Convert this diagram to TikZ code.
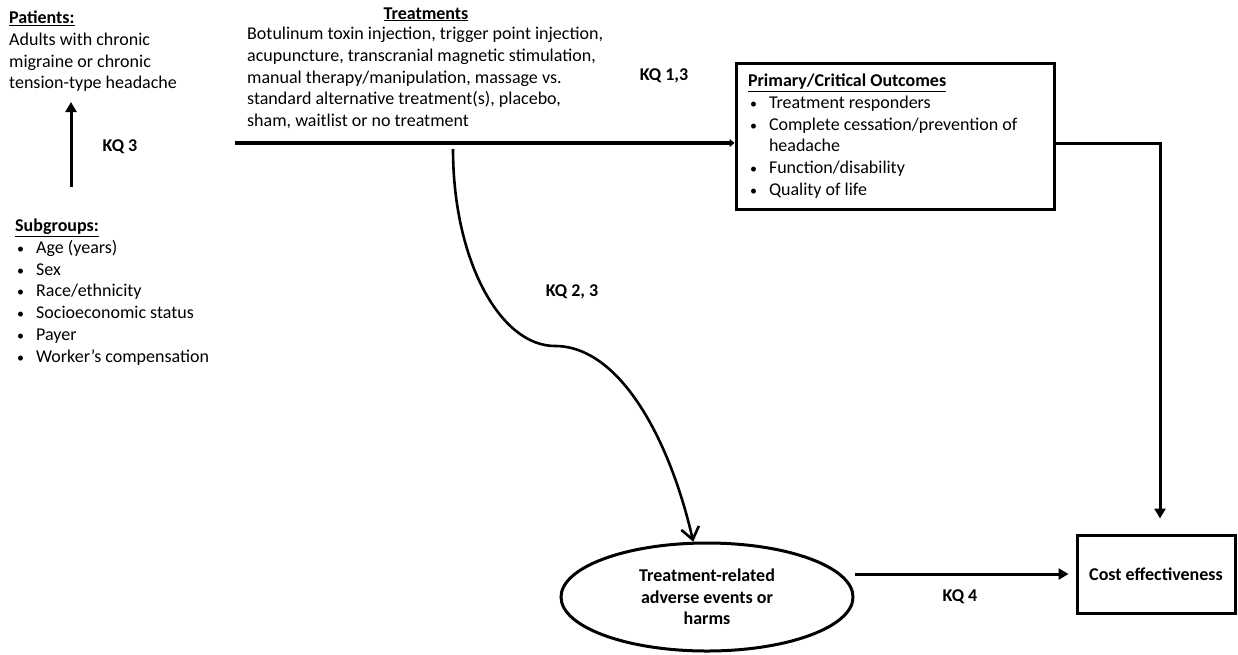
\documentclass[tikz,border=0pt]{standalone}
\usepackage{fontspec}
\setmainfont{Carlito}
\usepackage{tikz}
\usetikzlibrary{shapes.geometric,arrows.meta,positioning,calc}
\newcommand{\bul}{\hspace*{2pt}\makebox[19pt][l]{\fontsize{14}{14}\selectfont\textbullet}}

\begin{document}
\begin{tikzpicture}[x=1pt, y=-1pt,
    every node/.style={font=\fontsize{18}{21.7}\selectfont, inner sep=0pt},
    txt/.style={align=left, anchor=north west},
    kq/.style={font=\fontsize{18}{21.7}\selectfont\bfseries},
    box/.style={draw, line width=3pt},
    arr/.style={-{Triangle[length=10pt,width=11pt]}, line width=3pt},
]
    \useasboundingbox (0,0) rectangle (1238,654);

    % Patients and subgroups (left column)
    \node[txt] (patients) at (9,11) {\underline{\textbf{Patients:}}\\
        Adults with chronic\\ migraine or chronic\\ tension-type headache};
    \node[txt] (subgroups) at (15,219) {\underline{\textbf{Subgroups:}}\\
        \bul Age (years)\\ \bul Sex\\ \bul Race/ethnicity\\
        \bul Socioeconomic status\\ \bul Payer\\ \bul Worker’s compensation};

    % Treatments
    \node[kq, anchor=base] (treathead) at (426,19) {\underline{Treatments}};
    \node[txt] (treat) at (247,27) {Botulinum toxin injection, trigger point injection,\\
        acupuncture, transcranial magnetic stimulation,\\
        manual therapy/manipulation, massage vs.\\
        standard alternative treatment(s), placebo,\\
        sham, waitlist or no treatment};

    % Outcome boxes
    \node[box, minimum width=318pt, minimum height=146pt, text width=294pt,
          inner xsep=12pt, align=flush left] (outcomes) at (895,136) {%
        \underline{\textbf{Primary/Critical Outcomes}}\\
        \bul Treatment responders\\
        \bul Complete cessation/prevention of\\
        \hspace*{21pt}headache\\
        \bul Function/disability\\
        \bul Quality of life};
    \node[box, ellipse, kq, align=center, minimum width=292pt, minimum height=108pt]
        (harms) at (707,597) {Treatment-related\\adverse events or\\harms};
    \node[box, kq, minimum width=158pt, minimum height=78pt] (cost) at (1156,574)
        {Cost effectiveness};

    % Key question labels
    \node[kq] (kq3) at (120,147) {KQ 3};
    \node[kq] (kq13) at (664,76) {KQ 1,3};
    \node[kq] (kq23) at (572,292) {KQ 2, 3};
    \node[kq] (kq4) at (960,597) {KQ 4};

    % Connectors
    \coordinate (pbot) at (71,187);
    \coordinate (ptop) at (71,102);
    \draw[arr] (pbot) -- (ptop);

    \coordinate (tstart) at (235,143);
    \draw[line width=3.5pt, -{Triangle[length=5pt,width=8pt]}] (tstart) -- (tstart -| outcomes.west);
    \draw[arr, shorten >=15pt] (outcomes.east |- tstart) -| ([xshift=4pt]cost.north);

    \coordinate (cstart) at (453,149);
    \coordinate (cmid) at (555,346);
    \draw[line width=2.6pt, -{Straight Barb[length=12pt,width=18pt]}]
        (cstart) .. controls (453,260) and (500,346) .. (cmid)
        .. controls (620,346) and (670,440) .. (harms.104);

    \draw[arr] (harms.east |- cost.west) -- ([xshift=-7pt]cost.west);
\end{tikzpicture}
\end{document}
